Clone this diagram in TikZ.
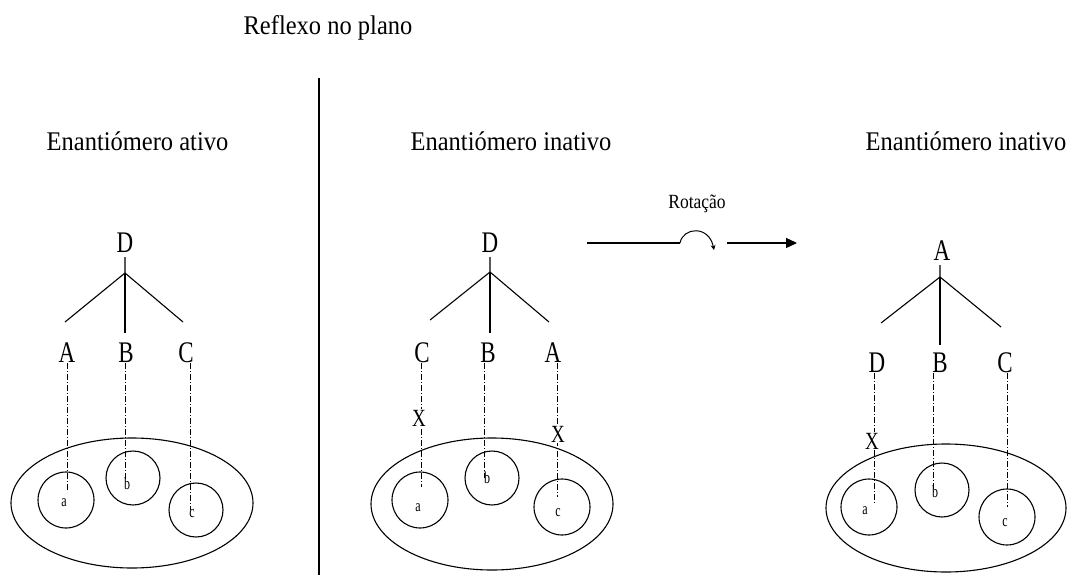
\documentclass[tikz,border=0pt]{standalone}
\usepackage{fontspec}
\setmainfont{Liberation Serif}
\usetikzlibrary{arrows.meta,shapes.geometric}
\newcommand{\tallA}[1]{\scalebox{1}[1.1]{#1}}
\newcommand{\tallB}[1]{\scalebox{1}[1.3]{#1}}
\newcommand{\tallC}[1]{\scalebox{1}[1.4]{#1}}
\begin{document}
\begin{tikzpicture}[x=1pt,y=-1pt,
  title/.style={font=\fontsize{24.5}{28}\selectfont, inner sep=0pt, anchor=base},
  letter/.style={font=\fontsize{23}{26}\selectfont, inner sep=1pt, anchor=base},
  small/.style={font=\fontsize{12}{14}\selectfont, inner sep=0pt, anchor=base},
  xmark/.style={font=\fontsize{19}{22}\selectfont, inner sep=0.5pt, fill=white, anchor=base},
  ring/.style={draw, circle, line width=1.1pt, inner sep=0pt},
  blob/.style={draw, ellipse, line width=1.1pt, inner sep=0pt},
  tree/.style={line width=1.1pt},
  dd/.style={line width=0.9pt, dash pattern=on 6pt off 2pt on 1pt off 2pt},
]
\useasboundingbox (0,0) rectangle (1070,575);

% headings
\node[title] (head) at (328,35) {\tallA{Reflexo no plano}};
\coordinate (mtop) at (319,78);
\coordinate (mbot) at (319,575);
\draw[line width=1.6pt] (mtop) -- (mbot);
\node[title] (t1) at (137.5,150) {\tallA{Enantiómero ativo}};
\node[title] (t2) at (511,150) {\tallA{Enantiómero inativo}};
\node[title] (t3) at (966,150) {\tallA{Enantiómero inativo}};

% ---------- left molecule ----------
\node[letter] (LD) at (125,252) {\tallB{D}};
\coordinate (Ls) at (125,257);
\coordinate (Lj) at (125,273);
\coordinate (Ll) at (65,322);
\coordinate (Lr) at (183,322);
\coordinate (Lm) at (125,333);
\draw[tree] (Ls) -- (Lj) -- (Ll);
\draw[tree] (Lj) -- (Lr);
\draw[tree] (Lj) -- (Lm);
\node[letter] (LA) at (67,362) {\tallB{A}};
\node[letter] (LB) at (126,362) {\tallB{B}};
\node[letter] (LC) at (186,362) {\tallB{C}};
\node[blob, minimum width=242pt, minimum height=130pt] (Le) at (132,503) {};
\node[ring, minimum size=56pt] (La) at (66,500) {};
\node[ring, minimum size=54pt] (Lb) at (133,478) {};
\node[ring, minimum size=54pt] (Lc) at (196,510) {};
\coordinate (LeA) at (67,490);
\coordinate (LeB) at (125,480);
\coordinate (LeC) at (190,510);
\draw[dd] (LA.south -| LeA) -- (LeA);
\draw[dd] (LB.south -| LeB) -- (LeB);
\draw[dd] (LC.south -| LeC) -- (LeC);
\node[small] (La-t) at (64,506) {\tallC{a}};
\node[small] (Lb-t) at (127,489) {\tallC{b}};
\node[small] (Lc-t) at (192,517) {\tallC{c}};

% ---------- middle molecule ----------
\node[letter] (MD) at (490,252) {\tallB{D}};
\coordinate (Ms) at (490,257);
\coordinate (Mj) at (490,272);
\coordinate (Ml) at (430,320);
\coordinate (Mr) at (549,322);
\coordinate (Mm) at (490,333);
\draw[tree] (Ms) -- (Mj) -- (Ml);
\draw[tree] (Mj) -- (Mr);
\draw[tree] (Mj) -- (Mm);
\node[letter] (MC) at (422,362) {\tallB{C}};
\node[letter] (MB) at (488,362) {\tallB{B}};
\node[letter] (MA) at (553,362) {\tallB{A}};
\node[blob, minimum width=242pt, minimum height=132pt] (Me) at (492,504) {};
\node[ring, minimum size=56pt] (Ma) at (420,500) {};
\node[ring, minimum size=54pt] (Mb) at (492,478) {};
\node[ring, minimum size=56pt] (Mc) at (562,507) {};
\coordinate (MeC) at (421,487);
\coordinate (MeB) at (484,478);
\coordinate (MeA) at (557,497);
\draw[dd] (MC.south -| MeC) -- (MeC);
\draw[dd] (MB.south -| MeB) -- (MeB);
\draw[dd] (MA.south -| MeA) -- (MeA);
\node[xmark] (MX1) at (419,426) {\tallB{X}};
\node[xmark] (MX2) at (558,442) {\tallB{X}};
\node[small] (Ma-t) at (418,511) {\tallC{a}};
\node[small] (Mb-t) at (487,483) {\tallC{b}};
\node[small] (Mc-t) at (558,516) {\tallC{c}};

% ---------- rotation arrow ----------
\node[font=\fontsize{17.5}{20}\selectfont, inner sep=0pt, anchor=base] (rot) at (697,208) {\scalebox{1}[1.15]{Rotação}};
\coordinate (R1) at (587,243);
\coordinate (R2) at (680,243);
\coordinate (R3) at (714,250);
\coordinate (R4) at (727,243);
\coordinate (R5) at (797,243);
\draw[line width=1.1pt] (R1) -- (R2);
\draw[line width=1pt, -{Stealth[length=5pt,width=5pt]}] (R2) .. controls (683,227) and (709,225) .. (R3);
\draw[line width=1.2pt, -{Triangle[length=11pt,width=10pt]}] (R4) -- (R5);

% ---------- right molecule ----------
\node[letter] (RA) at (942,260) {\tallB{A}};
\coordinate (Rs) at (940,265);
\coordinate (Rj) at (940,277);
\coordinate (Rl) at (881,323);
\coordinate (Rr) at (1001,327);
\coordinate (Rm) at (940,345);
\draw[tree] (Rs) -- (Rj) -- (Rl);
\draw[tree] (Rj) -- (Rr);
\draw[tree] (Rj) -- (Rm);
\node[letter] (RD) at (877,372) {\tallB{D}};
\node[letter] (RB) at (940,372) {\tallB{B}};
\node[letter] (RC) at (1005,372) {\tallB{C}};
\node[blob, minimum width=240pt, minimum height=128pt] (Re) at (946,508) {};
\node[ring, minimum size=56pt] (Ra) at (869,507) {};
\node[ring, minimum size=54pt] (Rb) at (942,490) {};
\node[ring, minimum size=56pt] (Rc) at (1007,517) {};
\coordinate (ReD) at (874,503);
\coordinate (ReB) at (933,493);
\coordinate (ReC) at (1007,507);
\draw[dd] (RD.south -| ReD) -- (ReD);
\draw[dd] (RB.south -| ReB) -- (ReB);
\draw[dd] (RC.south -| ReC) -- (ReC);
\node[xmark] (RX) at (872,449) {\tallB{X}};
\node[small] (Ra-t) at (865,514) {\tallC{a}};
\node[small] (Rb-t) at (935,497) {\tallC{b}};
\node[small] (Rc-t) at (1005,526) {\tallC{c}};
\end{tikzpicture}
\end{document}
